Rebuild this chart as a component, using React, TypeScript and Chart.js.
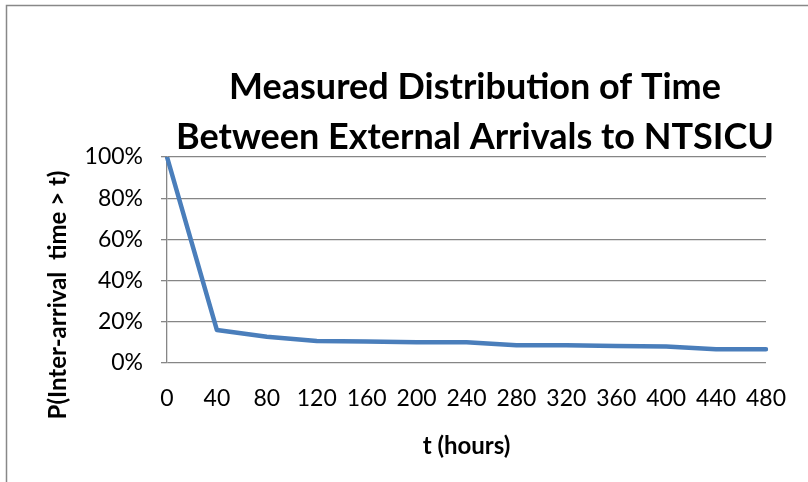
import React, { useEffect, useRef } from "react";
import { Chart, registerables } from "chart.js";

Chart.register(...registerables);

const hours = ["0", "40", "80", "120", "160", "200", "240", "280", "320", "360", "400", "440", "480"];
const probability = [100, 16, 12.7, 10.7, 10.4, 10.1, 10.1, 8.6, 8.6, 8.3, 8.0, 6.7, 6.7];
const yTicks = [0, 20, 40, 60, 80, 100];
const titleLines = ["Measured Distribution of Time", "Between External Arrivals to NTSICU"];
const xTitle = "t (hours)";
const yTitle = "P(Inter-arrival  time > t)";

const FONT = "Lato, 'Open Sans', sans-serif";

export default function App() {
  const ref = useRef<HTMLCanvasElement | null>(null);

  useEffect(() => {
    document.body.style.margin = "0";
    const canvas = ref.current;
    if (!canvas) return;

    const textPlugin = {
      id: "texts",
      afterDraw(chart: any) {
        const ctx = chart.ctx as CanvasRenderingContext2D;
        const area = chart.chartArea;
        ctx.save();
        ctx.strokeStyle = "#888888";
        ctx.lineWidth = 1.5;
        ctx.beginPath();
        ctx.moveTo(6.5, 490);
        ctx.lineTo(6.5, 5.5);
        ctx.lineTo(820, 5.5);
        ctx.stroke();

        ctx.fillStyle = "#000";
        ctx.textAlign = "center";
        ctx.textBaseline = "middle";
        ctx.font = `bold 36px ${FONT}`;
        ctx.fillText(titleLines[0], 475, 87);
        ctx.fillText(titleLines[1], 475, 137);

        ctx.font = `bold 24px ${FONT}`;
        ctx.fillText(xTitle, (area.left + area.right) / 2, 446);

        ctx.translate(58, 295);
        ctx.rotate(-Math.PI / 2);
        ctx.fillText(yTitle, 0, 0);
        ctx.restore();
      },
    };

    const chart = new Chart(canvas, {
      type: "line",
      data: {
        labels: hours,
        datasets: [
          {
            data: probability,
            borderColor: "#4A7EBB",
            borderWidth: 4.5,
            pointRadius: 0,
            tension: 0,
            borderJoinStyle: "round",
            borderCapStyle: "round",
          } as any,
        ],
      },
      options: {
        responsive: false,
        animation: false,
        layout: { padding: { top: 157, left: 0, right: 40, bottom: 0 } },
        plugins: { legend: { display: false }, tooltip: { enabled: false }, title: { display: false } },
        scales: {
          x: {
            type: "category",
            offset: false,
            grid: { display: false, drawTicks: false },
            border: { display: false },
            ticks: {
              color: "#000",
              font: { family: FONT, size: 23 },
              padding: 22,
              maxRotation: 0,
              autoSkip: false,
            },
            afterFit: (s: any) => {
              s.height = 482 - 363;
            },
          },
          y: {
            min: 0,
            max: 100,
            afterBuildTicks: (s: any) => {
              s.ticks = yTicks.map((v) => ({ value: v }));
            },
            grid: { color: "#868686", lineWidth: 1.3, tickLength: 6, drawTicks: true },
            border: { display: true, color: "#868686", width: 1.3 },
            ticks: {
              color: "#000",
              font: { family: FONT, size: 23 },
              padding: 18,
              callback: (v: any) => `${v}%`,
            },
            afterFit: (s: any) => {
              s.width = 167;
            },
          },
        },
      },
      plugins: [textPlugin],
    });

    return () => chart.destroy();
  }, []);

  return <canvas ref={ref} width={808} height={482} style={{ display: "block", width: 808, height: 482 }} />;
}
